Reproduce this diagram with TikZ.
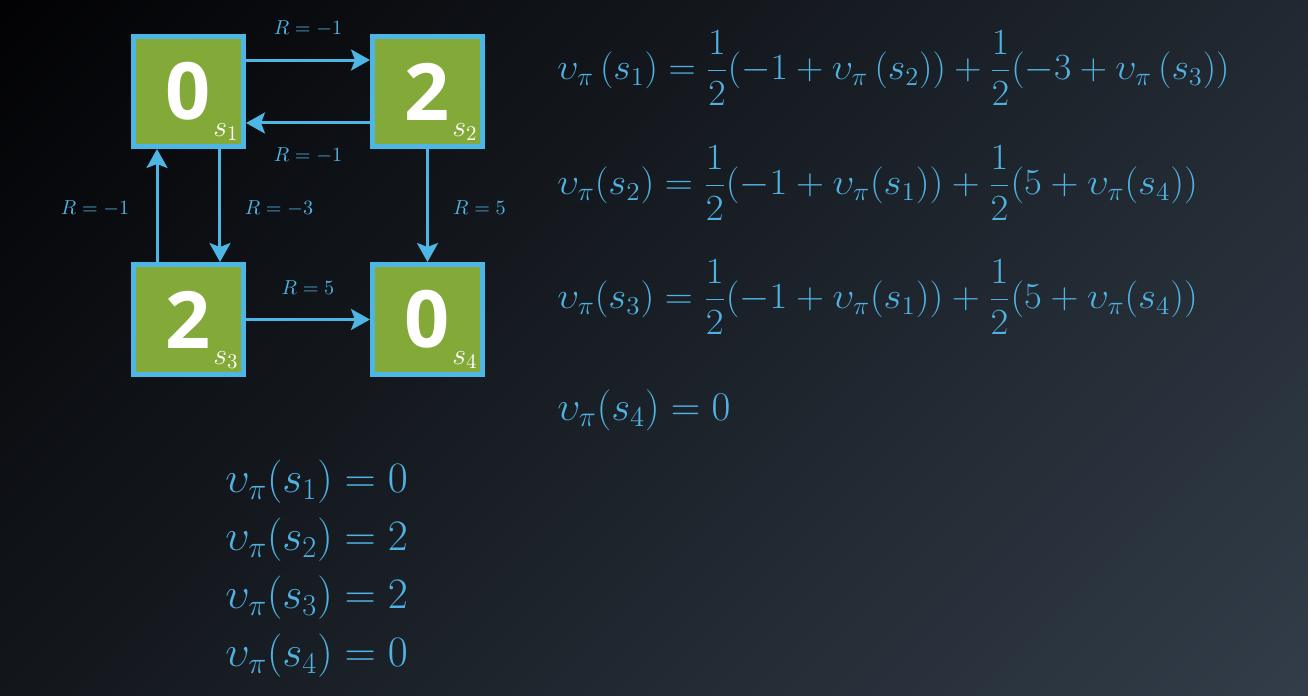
\RequirePackage{fix-cm}
\documentclass[tikz,border=0pt]{standalone}
\usepackage{amsmath}
\usepackage{fontspec}
\newfontfamily\digitfont{Open Sans}
\usetikzlibrary{arrows.meta,calc}
\definecolor{boxgreen}{RGB}{131,169,57}
\definecolor{edgeblue}{RGB}{77,182,228}
\definecolor{txtblue}{RGB}{80,178,226}
\definecolor{bgA}{RGB}{2,2,4}
\definecolor{bgB}{RGB}{50,61,73}
\begin{document}
\begin{tikzpicture}[x=0.02cm,y=-0.02cm,
  state/.style={draw=edgeblue, line width=0.1cm, fill=boxgreen, minimum size=2.2cm, inner sep=0pt, text=white, font=\digitfont\bfseries\fontsize{45}{45}\selectfont},
  sublab/.style={text=white, font=\fontsize{17}{17}\selectfont, inner sep=0pt},
  arr/.style={draw=edgeblue, line width=0.06cm, -{Stealth[length=0.38cm,width=0.42cm,inset=0.08cm]}},
  rlab/.style={text=txtblue, font=\fontsize{11.5}{13}\selectfont, inner sep=0pt},
  eq/.style={text=txtblue, font=\fontsize{21}{25}\selectfont, anchor=west, inner sep=0pt},
  eqb/.style={text=txtblue, font=\fontsize{23.3}{27}\selectfont, anchor=west, inner sep=0pt},
  res/.style={text=txtblue, font=\fontsize{24.7}{28}\selectfont, anchor=west, inner sep=0pt}]
\useasboundingbox (0,0) rectangle (1308,696);
\begin{scope}
\clip (0,0) rectangle (1308,696);
\shade[top color=bgA, bottom color=bgB, shading angle=45] (-54,-360) rectangle (1362,1056);
\end{scope}
\node[state] (s1) at (188.5,91.5) {0};
\node[state] (s2) at (427.5,91.5) {2};
\node[state] (s3) at (188.5,319.5) {2};
\node[state] (s4) at (427.5,319.5) {0};
\node[sublab] (l1) at ([shift={(-20,-17)}]s1.south east) {$s_1$};
\node[sublab] (l2) at ([shift={(-20,-17)}]s2.south east) {$s_2$};
\node[sublab] (l3) at ([shift={(-20,-17)}]s3.south east) {$s_3$};
\node[sublab] (l4) at ([shift={(-20,-17)}]s4.south east) {$s_4$};
\draw[arr] ([yshift=0.63cm]s1.east) -- ([yshift=0.63cm]s2.west) node[rlab, midway, yshift=0.64cm] {$R=-1$};
\draw[arr] ([yshift=-0.63cm]s2.west) -- ([yshift=-0.63cm]s1.east) node[rlab, midway, yshift=-0.64cm] {$R=-1$};
\draw[arr] ([xshift=0.63cm]s1.south) -- ([xshift=0.63cm]s3.north) node[rlab, midway, xshift=1.18cm, yshift=-0.05cm] {$R=-3$};
\draw[arr] ([xshift=-0.63cm]s3.north) -- ([xshift=-0.63cm]s1.south) node[rlab, midway, xshift=-1.24cm, yshift=-0.05cm] {$R=-1$};
\draw[arr] (s2) -- (s4) node[rlab, midway, xshift=1.04cm, yshift=-0.05cm] {$R=5$};
\draw[arr] (s3) -- (s4) node[rlab, midway, yshift=0.64cm] {$R=5$};
\node[eq] (e1) at (557,68) {\scalebox{1.023}[1]{$\displaystyle \upsilon_\pi\,(s_1)=\frac12(-1+\upsilon_\pi\,(s_2))+\frac12(-3+\upsilon_\pi\,(s_3))$}};
\node[eq] (e2) at (557,183) {\scalebox{1.05}[1]{$\displaystyle \upsilon_\pi(s_2)=\frac12(-1+\upsilon_\pi(s_1))+\frac12(5+\upsilon_\pi(s_4))$}};
\node[eq] (e3) at (557,297) {\scalebox{1.05}[1]{$\displaystyle \upsilon_\pi(s_3)=\frac12(-1+\upsilon_\pi(s_1))+\frac12(5+\upsilon_\pi(s_4))$}};
\node[eqb] (e4) at (557,410) {$\upsilon_\pi(s_4)=0$};
\node[res] (r1) at (225,482) {$\upsilon_\pi(s_1)=0$};
\node[res] (r2) at (225,540) {$\upsilon_\pi(s_2)=2$};
\node[res] (r3) at (225,598) {$\upsilon_\pi(s_3)=2$};
\node[res] (r4) at (225,656) {$\upsilon_\pi(s_4)=0$};
\end{tikzpicture}
\end{document}
